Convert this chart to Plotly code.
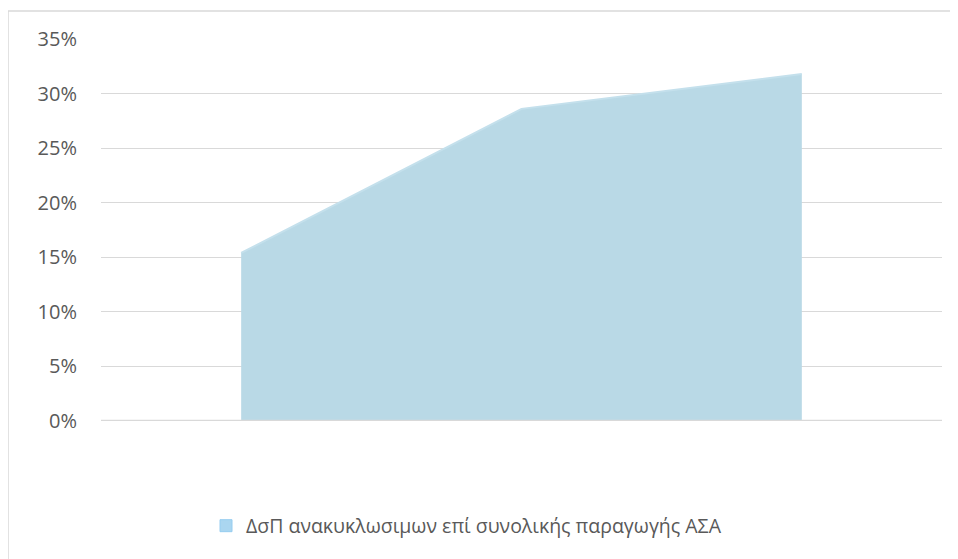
import plotly.graph_objects as go

categories = [1, 2, 3]
values = [0.154, 0.286, 0.318]
series_name = "ΔσΠ ανακυκλωσιμων επί συνολικής παραγωγής ΑΣΑ"
y_ticks = [0, 0.05, 0.10, 0.15, 0.20, 0.25, 0.30, 0.35]
y_tick_labels = ["0%", "5%", "10%", "15%", "20%", "25%", "30%", "35%"]

# page body has an 8px margin, so the figure is 8px smaller than the window
W, H = 950, 551
L, R, T, B = 93, 16, 31, 138
pw, ph = W - L - R, H - T - B

fig = go.Figure()
fig.add_trace(go.Scatter(
    x=categories, y=values, name=series_name,
    mode="lines", line=dict(width=2, color="rgb(196,224,236)"),
    fill="tozeroy", fillcolor="rgb(185,217,230)",
    showlegend=False, hoverinfo="skip",
))
# legend entry (square swatch)
fig.add_trace(go.Scatter(
    x=[None], y=[None], name=series_name, mode="markers",
    marker=dict(symbol="square", size=12, color="rgb(170,214,240)",
                line=dict(width=1, color="rgb(150,205,240)")),
    showlegend=True, hoverinfo="skip",
))

fig.update_layout(
    width=W, height=H,
    margin=dict(l=L, r=R, t=T, b=B, autoexpand=False),
    paper_bgcolor="white", plot_bgcolor="white",
    font=dict(family="Open Sans", color="#595959", size=20),
    xaxis=dict(range=[0.5, 3.5], showticklabels=False, showgrid=False,
               zeroline=False, showline=False, fixedrange=True),
    yaxis=dict(range=[0, 0.35], tickvals=y_ticks, ticktext=y_tick_labels,
               showgrid=True, gridcolor="#d9d9d9", gridwidth=1,
               zeroline=False, showline=False, ticks="", ticklabelstandoff=23,
               tickfont=dict(size=20, color="#595959")),
    legend=dict(orientation="h", x=(198 - L) / pw, xanchor="left",
                y=(413 - 518) / ph, yanchor="middle",
                font=dict(size=19.5, color="#595959")),
    shapes=[
        dict(type="line", xref="paper", yref="y", x0=0, x1=1, y0=0, y1=0,
             line=dict(color="#d9d9d9", width=2.5), layer="above"),
        dict(type="rect", xref="paper", yref="paper",
             x0=(0 - L) / pw, x1=(980 - L) / pw,
             y0=(413 - 600) / ph, y1=(413 - 3) / ph,
             line=dict(color="#d9d9d9", width=1.5), layer="below"),
    ],
)

fig.write_html("out.html")
